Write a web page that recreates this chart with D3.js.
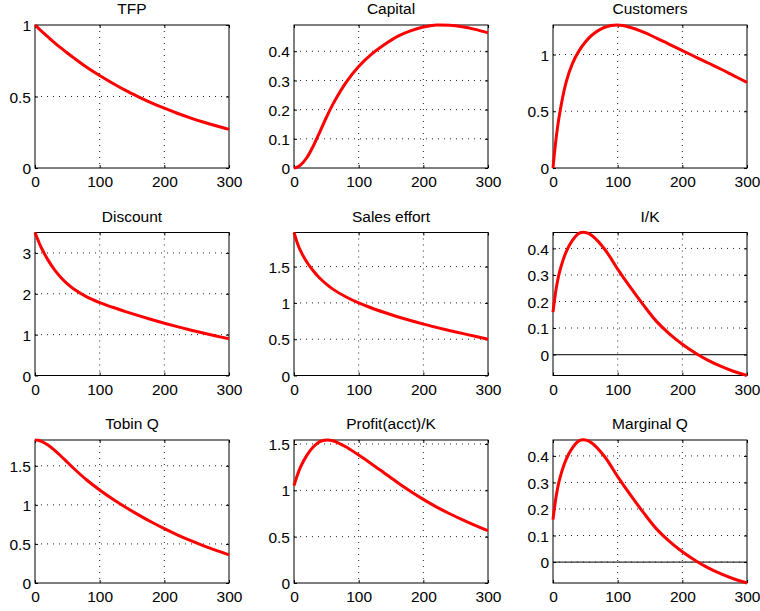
<!DOCTYPE html>
<html>
<head>
<meta charset="utf-8">
<script src="https://cdn.jsdelivr.net/npm/d3@7"></script>
<style>
  body { margin: 0; background: #fff; }
  text { font-family: "Liberation Sans", Arial, Helvetica, sans-serif; fill: #000; }
</style>
</head>
<body>
<div id="chart"></div>
<script>
// time steps shared by all panels
let steps = [0, 5, 10, 20, 30, 40, 50, 60, 80, 100, 120, 140, 160, 180, 200, 220, 240, 260, 280, 300];

// values
let tfp         = [1, 0.978, 0.957, 0.917, 0.877, 0.840, 0.804, 0.770, 0.705, 0.647, 0.593, 0.543, 0.498, 0.456, 0.418, 0.383, 0.351, 0.322, 0.295, 0.27];
let capital     = [0, 0.003, 0.010, 0.036, 0.076, 0.124, 0.173, 0.218, 0.292, 0.348, 0.39, 0.423, 0.451, 0.47, 0.483, 0.49, 0.489, 0.484, 0.475, 0.463];
let customers   = [0, 0.27, 0.47, 0.75, 0.92, 1.03, 1.11, 1.17, 1.24, 1.26, 1.238, 1.197, 1.145, 1.09, 1.035, 0.98, 0.925, 0.87, 0.812, 0.755];
let discount    = [3.5, 3.3, 3.12, 2.83, 2.59, 2.40, 2.245, 2.115, 1.925, 1.785, 1.67, 1.565, 1.465, 1.37, 1.28, 1.195, 1.115, 1.04, 0.968, 0.9];
let salesEffort = [1.97, 1.83, 1.72, 1.56, 1.44, 1.34, 1.26, 1.19, 1.085, 1.0, 0.93, 0.868, 0.81, 0.757, 0.708, 0.663, 0.62, 0.58, 0.54, 0.50];
let investK     = [0.16, 0.25, 0.31, 0.385, 0.43, 0.457, 0.46, 0.449, 0.397, 0.322, 0.252, 0.186, 0.125, 0.078, 0.039, 0.006, -0.022, -0.045, -0.064, -0.079];
let tobinQ      = [1.83, 1.826, 1.812, 1.765, 1.70, 1.625, 1.545, 1.465, 1.318, 1.19, 1.075, 0.97, 0.872, 0.78, 0.695, 0.617, 0.545, 0.479, 0.418, 0.36];
let profitK     = [1.05, 1.16, 1.25, 1.38, 1.47, 1.525, 1.543, 1.535, 1.47, 1.38, 1.285, 1.185, 1.085, 0.99, 0.902, 0.822, 0.75, 0.684, 0.622, 0.564];
let marginalQ   = [0.16, 0.25, 0.31, 0.385, 0.43, 0.457, 0.46, 0.449, 0.397, 0.322, 0.252, 0.186, 0.125, 0.078, 0.039, 0.006, -0.022, -0.045, -0.064, -0.079];

let titles = ["TFP", "Capital", "Customers", "Discount", "Sales effort", "I/K", "Tobin Q", "Profit(acct)/K", "Marginal Q"];
let series = [tfp, capital, customers, discount, salesEffort, investK, tobinQ, profitK, marginalQ];
let xTicks = [0, 100, 200, 300];
let yTicks = [
  [0, 0.5, 1],
  [0, 0.1, 0.2, 0.3, 0.4],
  [0, 0.5, 1],
  [0, 1, 2, 3],
  [0, 0.5, 1, 1.5],
  [0, 0.1, 0.2, 0.3, 0.4],
  [0, 0.5, 1, 1.5],
  [0, 0.5, 1, 1.5],
  [0, 0.1, 0.2, 0.3, 0.4]
];
let zeroLine = [false, false, false, false, false, true, false, false, true];

let width = 760,
    height = 611;

let plotW = 194,
    plotH = 143,
    left0 = 35,
    top0 = 25,
    colStep = 259,
    rowStep = 207.5;

let fmt = d3.format("~g");

let svg = d3.select("#chart").append("svg")
    .attr("width", width)
    .attr("height", height);

series.forEach(function(vals, i) {
  let col = i % 3,
      row = Math.floor(i / 3);

  let g = svg.append("g")
      .attr("transform", "translate(" + (left0 + col * colStep) + "," + (top0 + row * rowStep) + ")");

  let x = d3.scaleLinear()
      .domain([0, 300])
      .range([0, plotW]);

  // axis tight, but keep zero in view
  let y = d3.scaleLinear()
      .domain([Math.min(0, d3.min(vals)), d3.max(vals)])
      .range([plotH, 0]);

  // dotted grid
  g.selectAll(".vgrid")
    .data(xTicks.slice(1, -1))
    .enter().append("line")
      .attr("x1", d => x(d)).attr("x2", d => x(d))
      .attr("y1", 0).attr("y2", plotH)
      .attr("stroke", "#222")
      .attr("stroke-width", 1)
      .attr("stroke-dasharray", "1,5");

  g.selectAll(".hgrid")
    .data(yTicks[i].filter(d => y(d) > 0.5 && y(d) < plotH - 0.5))
    .enter().append("line")
      .attr("x1", 0).attr("x2", plotW)
      .attr("y1", d => y(d)).attr("y2", d => y(d))
      .attr("stroke", "#222")
      .attr("stroke-width", 1)
      .attr("stroke-dasharray", "1,5");

  if (zeroLine[i]) {
    g.append("line")
      .attr("x1", 0).attr("x2", plotW)
      .attr("y1", y(0)).attr("y2", y(0))
      .attr("stroke", "#333")
      .attr("stroke-width", 1.3);
  }

  // frame
  g.append("rect")
    .attr("width", plotW)
    .attr("height", plotH)
    .attr("fill", "none")
    .attr("stroke", "#000")
    .attr("stroke-width", 1);

  // inward tick marks, both sides like matlab
  let xAxis = d3.axisBottom(x).tickValues(xTicks).tickFormat(fmt).tickSize(-3).tickPadding(6);
  let yAxis = d3.axisLeft(y).tickValues(yTicks[i]).tickFormat(fmt).tickSize(-3).tickPadding(4);

  let gx = g.append("g")
      .attr("transform", "translate(0," + plotH + ")")
      .call(xAxis);
  let gy = g.append("g").call(yAxis);

  g.append("g").call(d3.axisTop(x).tickValues(xTicks).tickSize(-3).tickFormat(""));
  g.append("g").attr("transform", "translate(" + plotW + ",0)")
    .call(d3.axisRight(y).tickValues(yTicks[i]).tickSize(-3).tickFormat(""));

  g.selectAll(".domain").remove();
  g.selectAll(".tick line").attr("stroke", "#000");

  gx.selectAll("text")
    .style("font-size", "15.5px")
    .attr("dy", "0.85em");
  gy.selectAll("text")
    .style("font-size", "15.5px")
    .attr("dy", "0.36em");

  // the series
  let line = d3.line()
      .x((d, j) => x(steps[j]))
      .y(d => y(d))
      .curve(d3.curveCatmullRom.alpha(0.5));

  g.append("path")
    .datum(vals)
    .attr("d", line)
    .attr("fill", "none")
    .attr("stroke", "#ff0000")
    .attr("stroke-width", 3)
    .attr("stroke-linejoin", "round");

  g.append("text")
    .attr("x", plotW / 2)
    .attr("y", -11)
    .attr("text-anchor", "middle")
    .style("font-size", "15.5px")
    .text(titles[i]);
});
</script>
</body>
</html>
